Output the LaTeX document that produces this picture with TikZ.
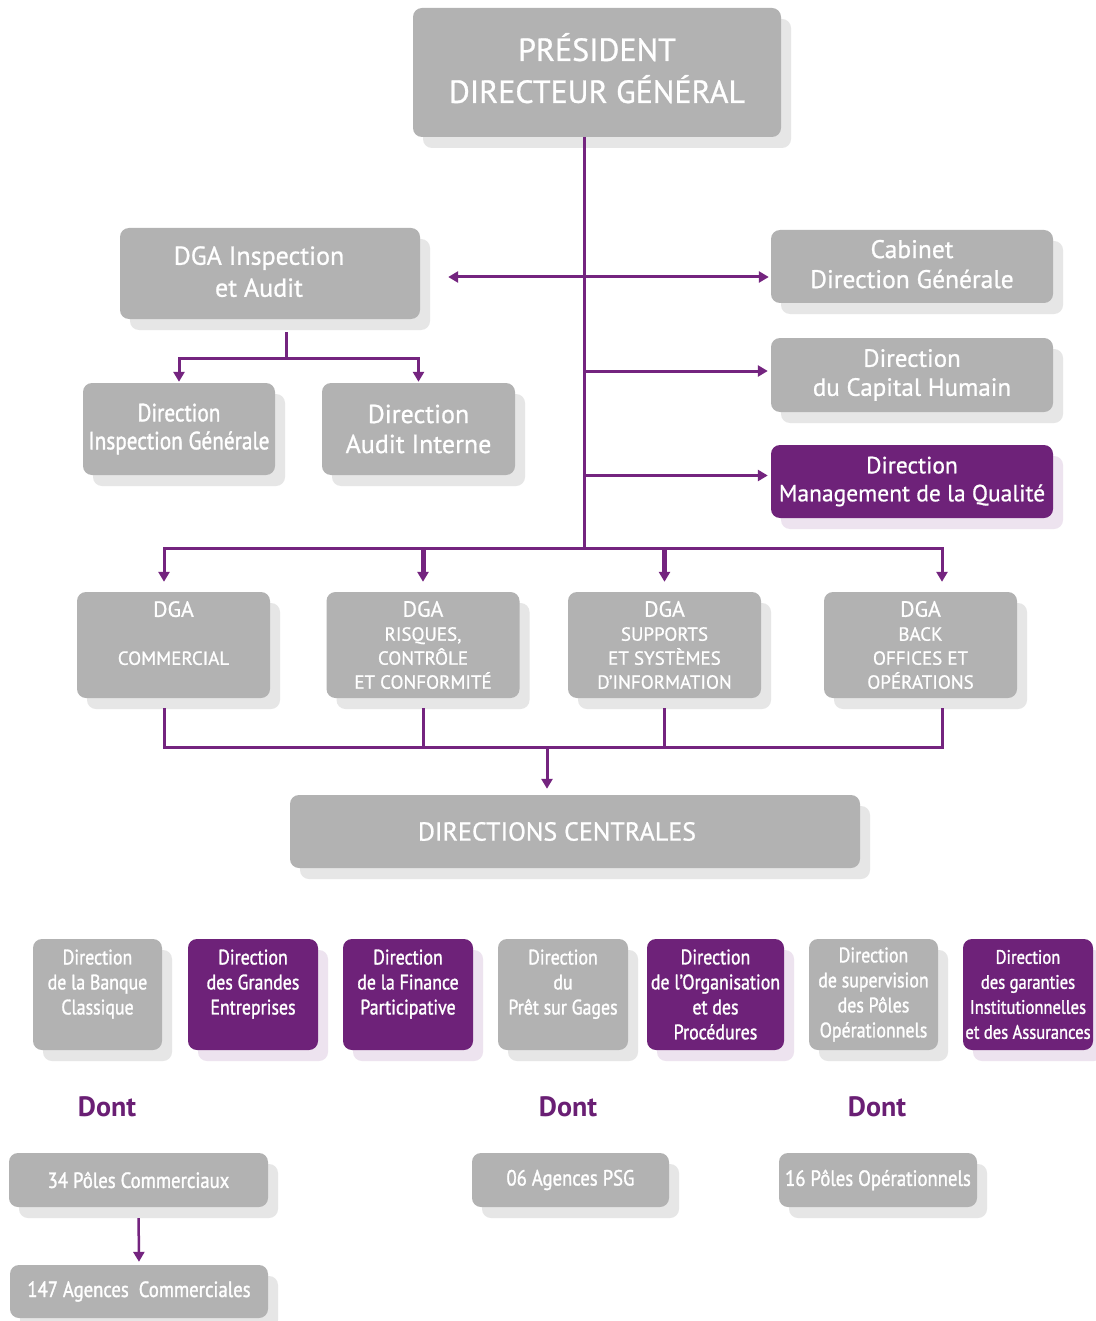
\documentclass[tikz,border=0pt]{standalone}
\usepackage{fontspec}
\setmainfont{PT Sans}[FakeBold=0.8]
\newfontfamily\cond{PT Sans}[FakeStretch=0.85,FakeBold=1.3]
\newfontfamily\dontfont{PT Sans Bold}
\usetikzlibrary{arrows.meta,shadows,calc}
\definecolor{boxgray}{HTML}{B2B2B2}
\definecolor{boxpurple}{HTML}{6E2279}
\definecolor{linepurple}{HTML}{74247F}
\definecolor{shadowgray}{HTML}{E6E6E6}
\definecolor{shadowpurple}{HTML}{EDE3EF}
\definecolor{dontpurple}{HTML}{6A1F74}
\newcommand{\sm}{\fontsize{19}{23.5}\selectfont}
\begin{document}
\begin{tikzpicture}[x=1pt,y=-1pt,
 basebox/.style={rounded corners=9pt, text=white, align=center, inner sep=0pt},
 gbox/.style={basebox, fill=boxgray, drop shadow={shadow xshift=10pt, shadow yshift=-11pt, fill=shadowgray, opacity=1}},
 pbox/.style={basebox, fill=boxpurple, drop shadow={shadow xshift=10pt, shadow yshift=-11pt, fill=shadowpurple, opacity=1}},
 wire/.style={draw=linepurple, line width=3pt},
 arr/.style={wire, -{Triangle[width=11pt,length=10pt]}},
 thickarr/.style={arr, line width=5pt},
 dont/.style={text=dontpurple, font=\dontfont\fontsize{28}{30}\selectfont, inner sep=0pt},
 dgabox/.style={gbox, minimum width=193, minimum height=106, font=\fontsize{22}{24}\selectfont},
 rowg/.style={gbox, minimum height=111, font=\cond\fontsize{21}{25}\selectfont},
 rowp/.style={pbox, minimum height=111, font=\cond\fontsize{21}{25}\selectfont},
 smallbox/.style={gbox, minimum height=54, font=\cond\fontsize{22}{24}\selectfont},
]
\useasboundingbox (0,0) rectangle (1095,1321);
\fill[white] (0,0) rectangle (1095,1321);

% top
\node[gbox, minimum width=368, minimum height=129, font=\fontsize{32}{42}\selectfont] (pdg) at (597,72.5) {PRÉSIDENT\\DIRECTEUR GÉNÉRAL\rule[-9pt]{0pt}{9pt}};

\node[gbox, minimum width=300, minimum height=91, font=\fontsize{26}{32}\selectfont] (dgaia) at (270,273.5) {DGA Inspection\hspace*{22pt}\\et Audit\hspace*{22pt}\rule[-4pt]{0pt}{4pt}};
\node[gbox, minimum width=282, minimum height=73, font=\fontsize{25.5}{30}\selectfont] (cab) at (912,266.5) {Cabinet\\Direction Générale\rule[-5pt]{0pt}{5pt}};
\node[gbox, minimum width=282, minimum height=74, font=\fontsize{25}{29}\selectfont] (caph) at (912,375) {Direction\\du Capital Humain};
\node[pbox, minimum width=282, minimum height=73, font=\fontsize{23.5}{28}\selectfont] (qual) at (912,481.5) {Direction\\Management de la Qualité};

\node[gbox, minimum width=192, minimum height=92, font=\cond\fontsize{25}{28}\selectfont] (insp) at (179,429) {Direction\\Inspection Générale};
\node[gbox, minimum width=193, minimum height=92, font=\fontsize{26}{30}\selectfont] (audit) at (418.5,429) {Direction\\Audit Interne};

% DGA row
\node[dgabox] (dgac) at (173.5,645) {DGA\\ \\ \sm COMMERCIAL\\ \phantom{X}};
\node[dgabox] (dgar) at (423,645) {DGA\\ \sm RISQUES,\\ \sm CONTRÔLE\\ \sm ET CONFORMITÉ};
\node[dgabox] (dgas) at (664.5,645) {DGA\\ \sm SUPPORTS\\ \sm ET SYSTÈMES\\ \sm D’INFORMATION};
\node[dgabox] (dgab) at (920.5,645) {DGA\\ \sm BACK\\ \sm OFFICES ET\\ \sm OPÉRATIONS};

\node[gbox, minimum width=570, minimum height=73, font=\fontsize{26}{30}\selectfont] (dc) at (575,831.5) {DIRECTIONS CENTRALES\hspace*{36pt}};

% bottom row
\node[rowg, minimum width=129] (b1) at (97.5,994.5) {Direction\\de la Banque\\Classique\\ \phantom{X}};
\node[rowp, minimum width=130] (b2) at (253,994.5) {Direction\\des Grandes\\Entreprises\\ \phantom{X}};
\node[rowp, minimum width=130] (b3) at (408,994.5) {Direction\\de la Finance\\Participative\\ \phantom{X}};
\node[rowg, minimum width=130] (b4) at (563,994.5) {Direction\\du\\Prêt sur Gages\\ \phantom{X}};
\node[rowp, minimum width=137] (b5) at (715.5,994.5) {Direction\\de l’Organisation\\et des\\Procédures};
\node[rowg, minimum width=129] (b6) at (873.5,994.5) {Direction\\de supervision\\des Pôles\\Opérationnels};
\node[rowp, minimum width=130, font=\cond\fontsize{19.5}{25}\selectfont] (b7) at (1028,994.5) {Direction\\des garanties\\Institutionnelles\\et des Assurances};

\node[dont] (d1) at (107,1107) {Dont};
\node[dont] (d2) at (568,1107) {Dont};
\node[dont] (d3) at (877,1107) {Dont};

\node[smallbox, minimum width=259] (p34) at (138.5,1180) {34 Pôles Commerciaux};
\node[smallbox, minimum width=258, minimum height=53] (a147) at (139,1291.5) {147 Agences\ \ Commerciales};
\node[smallbox, minimum width=197] (psg) at (570.5,1180) {06 Agences PSG};
\node[smallbox, minimum width=198] (p16) at (878,1180) {16 Pôles Opérationnels};

% connectors
\coordinate (bus) at (584,548);
\coordinate (hy) at (584,277);
\coordinate (capin) at ([yshift=4pt]caph.west);
\coordinate (qualin) at ([yshift=6pt]qual.west);
\draw[wire] (pdg.south -| bus) -- (bus);
\draw[arr, shorten >=28pt] (hy) -- (hy -| dgaia.east);
\draw[arr, shorten >=2pt] (hy) -- (hy -| cab.west);
\draw[arr, shorten >=3pt] (bus |- capin) -- (capin);
\draw[arr, shorten >=3pt] (bus |- qualin) -- (qualin);

\coordinate (ib) at (286,358);
\draw[wire, shorten <=13pt] (ib |- dgaia.south) -- (ib);
\draw[arr, shorten >=1pt] (ib) -| (insp.north);
\draw[arr, shorten >=1pt] (ib) -| (audit.north);

\coordinate (bl) at (164,548);
\coordinate (br) at (942,548);
\draw[arr, shorten >=10pt] (bus) -| (bl |- dgac.north);
\draw[arr, shorten >=10pt] (bus) -| (br |- dgab.north);
\draw[thickarr, shorten >=10pt] (bus -| dgar.north) -- (dgar.north);
\draw[thickarr, shorten >=10pt] (bus -| dgas.north) -- (dgas.north);

\coordinate (lb) at (547,747);
\draw[wire, shorten <=10pt] (bl |- dgac.south) |- (lb);
\draw[wire, shorten <=10pt] (br |- dgab.south) |- (lb);
\draw[wire, shorten <=10pt] (dgar.south) -- (dgar.south |- lb);
\draw[wire, shorten <=10pt] (dgas.south) -- (dgas.south |- lb);
\draw[arr, shorten >=6pt] (lb) -- (lb |- dc.north);

\draw[arr, line width=2.5pt, shorten <=11pt, shorten >=3pt] (p34.south) -- (a147.north);
\end{tikzpicture}
\end{document}
